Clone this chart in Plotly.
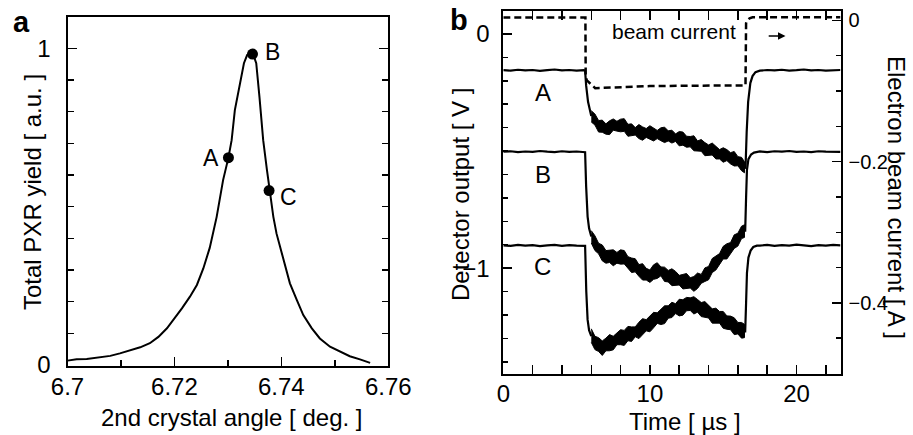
import plotly.graph_objects as go

# ---------------- Panel a data ----------------
angle = [6.7000, 6.7017, 6.7036, 6.7061, 6.7080, 6.7098, 6.7117, 6.7136, 6.7154, 6.7170,
         6.7186, 6.7198, 6.7214, 6.7229, 6.7242, 6.7254, 6.7266, 6.7279, 6.7291, 6.7301,
         6.7307, 6.7313, 6.7323, 6.7330, 6.7336, 6.7342, 6.7347, 6.7353, 6.7359, 6.7366,
         6.7373, 6.7378, 6.7385, 6.7391, 6.7404, 6.7416, 6.7429, 6.7441, 6.7457, 6.7472,
         6.7491, 6.7510, 6.7528, 6.7547, 6.7566]
pxr_yield = [0.014, 0.018, 0.019, 0.024, 0.029, 0.037, 0.047, 0.056, 0.069, 0.089,
             0.116, 0.142, 0.179, 0.216, 0.253, 0.305, 0.370, 0.468, 0.584, 0.655,
             0.710, 0.805, 0.889, 0.953, 0.979, 0.985, 0.982, 0.953, 0.847, 0.710,
             0.616, 0.550, 0.468, 0.415, 0.332, 0.258, 0.205, 0.158, 0.116, 0.084,
             0.058, 0.042, 0.028, 0.018, 0.007]
point_names = ["A", "B", "C"]
point_angle = [6.7301, 6.7346, 6.7377]
point_yield = [0.655, 0.982, 0.551]
label_a_angle = [6.7268, 6.7384, 6.7413]
label_a_yield = [0.653, 0.99, 0.531]

# ---------------- Panel b data ----------------
t_pre = [0.0, 0.5, 1.0, 1.5, 2.0, 2.5, 3.0, 3.5, 4.0, 4.5, 5.0, 5.5]
t_post = [17.5, 18.0, 18.5, 19.0, 19.5, 20.0, 20.5, 21.0, 21.5, 22.0, 22.5, 23.0]
t_pulse = [6.0, 6.25, 6.5, 6.75, 7.0, 7.25, 7.5, 7.75, 8.0, 8.25, 8.5, 8.75, 9.0, 9.25,
           9.5, 9.75, 10.0, 10.25, 10.5, 10.75, 11.0, 11.25, 11.5, 11.75, 12.0, 12.25,
           12.5, 12.75, 13.0, 13.25, 13.5, 13.75, 14.0, 14.25, 14.5, 14.75, 15.0, 15.25,
           15.5, 15.75, 16.0, 16.25, 16.45]

# signal A
A_pre = [-0.155, -0.157, -0.153, -0.156, -0.154, -0.158, -0.155, -0.152, -0.156, -0.154, -0.157, -0.155]
A_down_t = [5.58, 5.65, 5.78, 5.9, 6.0]
A_down = [-0.158, -0.22, -0.29, -0.33, -0.350]
A_upper = [-0.328, -0.342, -0.370, -0.368, -0.384, -0.371, -0.363, -0.373, -0.364, -0.362,
           -0.386, -0.384, -0.400, -0.387, -0.397, -0.404, -0.392, -0.401, -0.412, -0.401,
           -0.398, -0.414, -0.411, -0.427, -0.417, -0.419, -0.437, -0.438, -0.435, -0.457,
           -0.451, -0.464, -0.474, -0.466, -0.479, -0.494, -0.486, -0.494, -0.507, -0.502,
           -0.524, -0.527, -0.546]
A_lower = [-0.376, -0.389, -0.419, -0.420, -0.428, -0.430, -0.411, -0.415, -0.418, -0.416,
           -0.437, -0.436, -0.432, -0.447, -0.454, -0.442, -0.451, -0.457, -0.447, -0.456,
           -0.464, -0.457, -0.466, -0.459, -0.478, -0.475, -0.484, -0.482, -0.499, -0.501,
           -0.501, -0.520, -0.518, -0.517, -0.534, -0.534, -0.548, -0.541, -0.555, -0.564,
           -0.563, -0.584, -0.593]
A_up_t = [16.45, 16.52, 16.6, 16.7, 16.85, 17.0, 17.2]
A_up = [-0.568, -0.575, -0.42, -0.29, -0.21, -0.18, -0.163]
A_post = [-0.157, -0.154, -0.156, -0.153, -0.157, -0.155, -0.152, -0.156, -0.154, -0.157, -0.155, -0.154]

# signal B
B_pre = [-0.503, -0.501, -0.505, -0.502, -0.504, -0.500, -0.503, -0.505, -0.501, -0.504, -0.502, -0.503]
B_down_t = [5.58, 5.65, 5.75, 5.85, 5.95, 6.0]
B_down = [-0.505, -0.65, -0.78, -0.83, -0.855, -0.865]
B_upper = [-0.840, -0.862, -0.894, -0.901, -0.925, -0.923, -0.922, -0.933, -0.922, -0.925,
           -0.951, -0.957, -0.960, -0.985, -0.981, -1.001, -1.008, -0.986, -0.977, -0.995,
           -0.996, -1.010, -1.003, -1.014, -1.031, -1.027, -1.023, -1.041, -1.036, -1.021,
           -1.027, -0.999, -0.993, -0.959, -0.948, -0.938, -0.907, -0.896, -0.891, -0.858,
           -0.851, -0.821, -0.815]
B_lower = [-0.893, -0.925, -0.939, -0.969, -0.979, -0.976, -0.990, -0.979, -0.983, -0.982,
           -1.001, -1.019, -1.016, -1.035, -1.051, -1.051, -1.061, -1.048, -1.044, -1.033,
           -1.057, -1.059, -1.075, -1.075, -1.072, -1.089, -1.088, -1.085, -1.099, -1.087,
           -1.065, -1.057, -1.050, -1.019, -1.008, -0.986, -0.961, -0.961, -0.941, -0.916,
           -0.906, -0.874, -0.869]
B_up_t = [16.45, 16.5, 16.56, 16.62, 16.72, 16.9, 17.1, 17.3]
B_up = [-0.840, -0.84, -0.70, -0.58, -0.535, -0.515, -0.507, -0.503]
B_post = [-0.502, -0.505, -0.501, -0.503, -0.500, -0.504, -0.502, -0.505, -0.501, -0.503, -0.502, -0.504]

# signal C
C_pre = [-0.903, -0.905, -0.901, -0.904, -0.902, -0.906, -0.903, -0.901, -0.905, -0.902, -0.904, -0.903]
C_down_t = [5.58, 5.66, 5.75, 5.85, 5.95, 6.0]
C_down = [-0.905, -1.10, -1.22, -1.265, -1.28, -1.290]
C_upper = [-1.259, -1.291, -1.297, -1.311, -1.299, -1.284, -1.291, -1.275, -1.263, -1.266,
           -1.249, -1.251, -1.251, -1.231, -1.216, -1.220, -1.203, -1.189, -1.191, -1.176,
           -1.161, -1.161, -1.146, -1.152, -1.133, -1.135, -1.125, -1.127, -1.122, -1.134,
           -1.147, -1.143, -1.159, -1.174, -1.171, -1.185, -1.185, -1.204, -1.205, -1.212,
           -1.232, -1.232, -1.240]
C_lower = [-1.317, -1.348, -1.356, -1.373, -1.353, -1.353, -1.349, -1.327, -1.327, -1.330,
           -1.310, -1.313, -1.293, -1.301, -1.283, -1.268, -1.272, -1.255, -1.236, -1.241,
           -1.237, -1.214, -1.211, -1.194, -1.204, -1.201, -1.182, -1.181, -1.196, -1.188,
           -1.207, -1.209, -1.213, -1.235, -1.236, -1.235, -1.257, -1.261, -1.263, -1.284,
           -1.281, -1.299, -1.297]
C_up_t = [16.45, 16.5, 16.56, 16.62, 16.72, 16.87, 17.05, 17.3]
C_up = [-1.270, -1.27, -1.15, -1.02, -0.955, -0.925, -0.91, -0.904]
C_post = [-0.904, -0.901, -0.905, -0.902, -0.904, -0.900, -0.903, -0.906, -0.902, -0.904, -0.901, -0.903]

# electron beam current (right axis, A)
t_beam = [0.0, 5.6, 5.62, 5.7, 6.27, 10.0, 16.52, 16.56, 16.62, 16.8, 17.0, 23.0]
I_beam = [0.004, 0.004, -0.080, -0.085, -0.096, -0.093, -0.092, -0.004, 0.0, 0.003, 0.0045, 0.0045]

trace_names = ["A", "B", "C"]
trace_label_t = [2.68, 2.68, 2.68]
trace_label_v = [-0.252, -0.599, -0.994]

FONT = "Liberation Sans, Arial, Helvetica, sans-serif"
BLACK = "#000000"
W, H = 913, 435

fig = go.Figure()

# Panel a
fig.add_trace(go.Scatter(x=angle, y=pxr_yield, mode="lines",
                         line=dict(color=BLACK, width=2), xaxis="x", yaxis="y"))
fig.add_trace(go.Scatter(x=point_angle, y=point_yield, mode="markers",
                         marker=dict(color=BLACK, size=11), xaxis="x", yaxis="y"))

# Panel b signals: thin baselines/edges + filled noisy band during the pulse
signals = [
    (A_pre, A_down_t, A_down, A_upper, A_lower, A_up_t, A_up, A_post),
    (B_pre, B_down_t, B_down, B_upper, B_lower, B_up_t, B_up, B_post),
    (C_pre, C_down_t, C_down, C_upper, C_lower, C_up_t, C_up, C_post),
]
for pre, dt, dv, upper, lower, ut, uv, post in signals:
    xs = t_pre + dt + [None] + ut + t_post
    ys = pre + dv + [None] + uv + post
    fig.add_trace(go.Scatter(x=xs, y=ys, mode="lines", connectgaps=False,
                             line=dict(color=BLACK, width=2.2),
                             xaxis="x2", yaxis="y2"))
    fig.add_trace(go.Scatter(x=t_pulse + t_pulse[::-1], y=upper + lower[::-1],
                             mode="lines", fill="toself", fillcolor=BLACK,
                             line=dict(color=BLACK, width=1),
                             xaxis="x2", yaxis="y2"))

fig.add_trace(go.Scatter(x=t_beam, y=I_beam, mode="lines",
                         line=dict(color=BLACK, width=2.5, dash="7px,4px"),
                         xaxis="x2", yaxis="y3"))

tickfont = dict(family=FONT, size=24, color=BLACK)
common = dict(showgrid=False, zeroline=False, showline=True, linecolor=BLACK,
              linewidth=2, ticks="inside", ticklen=9, tickwidth=1.5, tickcolor=BLACK,
              fixedrange=True, automargin=False)

fig.update_layout(
    width=W, height=H,
    margin=dict(l=0, r=0, t=0, b=0, autoexpand=False),
    paper_bgcolor="white", plot_bgcolor="white",
    showlegend=False,
    xaxis=dict(domain=[67.5 / W, 388.3 / W], anchor="y", range=[6.7, 6.76],
               dtick=0.02, tick0=6.7, mirror=True, tickfont=tickfont,
               minor=dict(dtick=0.01, ticks="inside", ticklen=6, tickwidth=1.5, tickcolor=BLACK),
               ticklabelstandoff=-2, **common),
    yaxis=dict(domain=[(H - 365.7) / H, (H - 16.7) / H], anchor="x", range=[-0.002, 1.1],
               dtick=1, tick0=0, mirror="allticks", tickfont=tickfont,
               minor=dict(dtick=0.1, ticks="inside", ticklen=6, tickwidth=1.5, tickcolor=BLACK),
               ticklabelstandoff=10, **common),
    xaxis2=dict(domain=[503.3 / W, 840.5 / W], anchor="y2", range=[0, 23],
                dtick=10, tick0=0, mirror="allticks", tickfont=tickfont,
                minor=dict(dtick=2, ticks="inside", ticklen=5, tickwidth=1.5, tickcolor=BLACK),
                ticklabelstandoff=-3, **common),
    yaxis2=dict(domain=[(H - 374.2) / H, (H - 10.5) / H], anchor="x2", range=[-1.453, 0.1],
                dtick=1, tick0=0, mirror=True, tickfont=tickfont,
                minor=dict(dtick=0.1, ticks="inside", ticklen=5, tickwidth=1.5, tickcolor=BLACK),
                ticklabelstandoff=7, **common),
    yaxis3=dict(overlaying="y2", side="right", anchor="x2", range=[-0.501, 0.014],
                dtick=0.2, tick0=0, tickfont=dict(family=FONT, size=20, color=BLACK),
                minor=dict(dtick=0.05, ticks="inside", ticklen=5, tickwidth=1.5, tickcolor=BLACK),
                ticklabelstandoff=2, **common),
)


def px_x(px):
    return px / W


def px_y(py):
    return 1 - py / H


title_font = dict(family=FONT, size=24, color=BLACK)
ann = []
ann.append(dict(text="Total PXR yield [ a.u. ]", x=px_x(32), y=px_y(192), textangle=-90))
ann.append(dict(text="2nd crystal angle [ deg. ]", x=px_x(231.7), y=px_y(417)))
ann.append(dict(text="Detector output [ V ]", x=px_x(460), y=px_y(195), textangle=-90))
ann.append(dict(text="Time [ µs ]", x=px_x(685), y=px_y(421)))
ann.append(dict(text="Electron beam current [ A ]", x=px_x(897), y=px_y(197), textangle=90))
for a in ann:
    a.update(xref="paper", yref="paper", showarrow=False, font=title_font,
             xanchor="center", yanchor="middle")

ann.append(dict(text="<b>a</b>", x=px_x(21.5), y=px_y(22), xref="paper", yref="paper",
                showarrow=False, font=dict(family=FONT, size=29, color=BLACK),
                xanchor="center", yanchor="middle"))
ann.append(dict(text="<b>b</b>", x=px_x(459), y=px_y(20), xref="paper", yref="paper",
                showarrow=False, font=dict(family=FONT, size=29, color=BLACK),
                xanchor="center", yanchor="middle"))

for n, xx, yy in zip(point_names, label_a_angle, label_a_yield):
    ann.append(dict(text=n, x=xx, y=yy, xref="x", yref="y", showarrow=False,
                    font=dict(family=FONT, size=23, color=BLACK),
                    xanchor="center", yanchor="middle"))

for n, xx, yy in zip(trace_names, trace_label_t, trace_label_v):
    ann.append(dict(text=n, x=xx, y=yy, xref="x2", yref="y2", showarrow=False,
                    font=dict(family=FONT, size=24, color=BLACK),
                    xanchor="center", yanchor="middle"))

ann.append(dict(text="beam current", x=11.62, y=0.011, xref="x2", yref="y2", showarrow=False,
                font=dict(family=FONT, size=21, color=BLACK), xanchor="center", yanchor="middle"))
ann.append(dict(text="", x=19.25, y=-0.0094, ax=18.0, ay=-0.0094, xref="x2", yref="y2",
                axref="x2", ayref="y2", showarrow=True, arrowhead=2, arrowsize=1,
                arrowwidth=1.5, arrowcolor=BLACK))

fig.update_layout(annotations=ann)
fig.write_html("out.html",
               config={"displayModeBar": False, "staticPlot": True},
               post_script="document.body.style.margin='0px';document.body.style.padding='0px';document.body.style.overflow='hidden';")
